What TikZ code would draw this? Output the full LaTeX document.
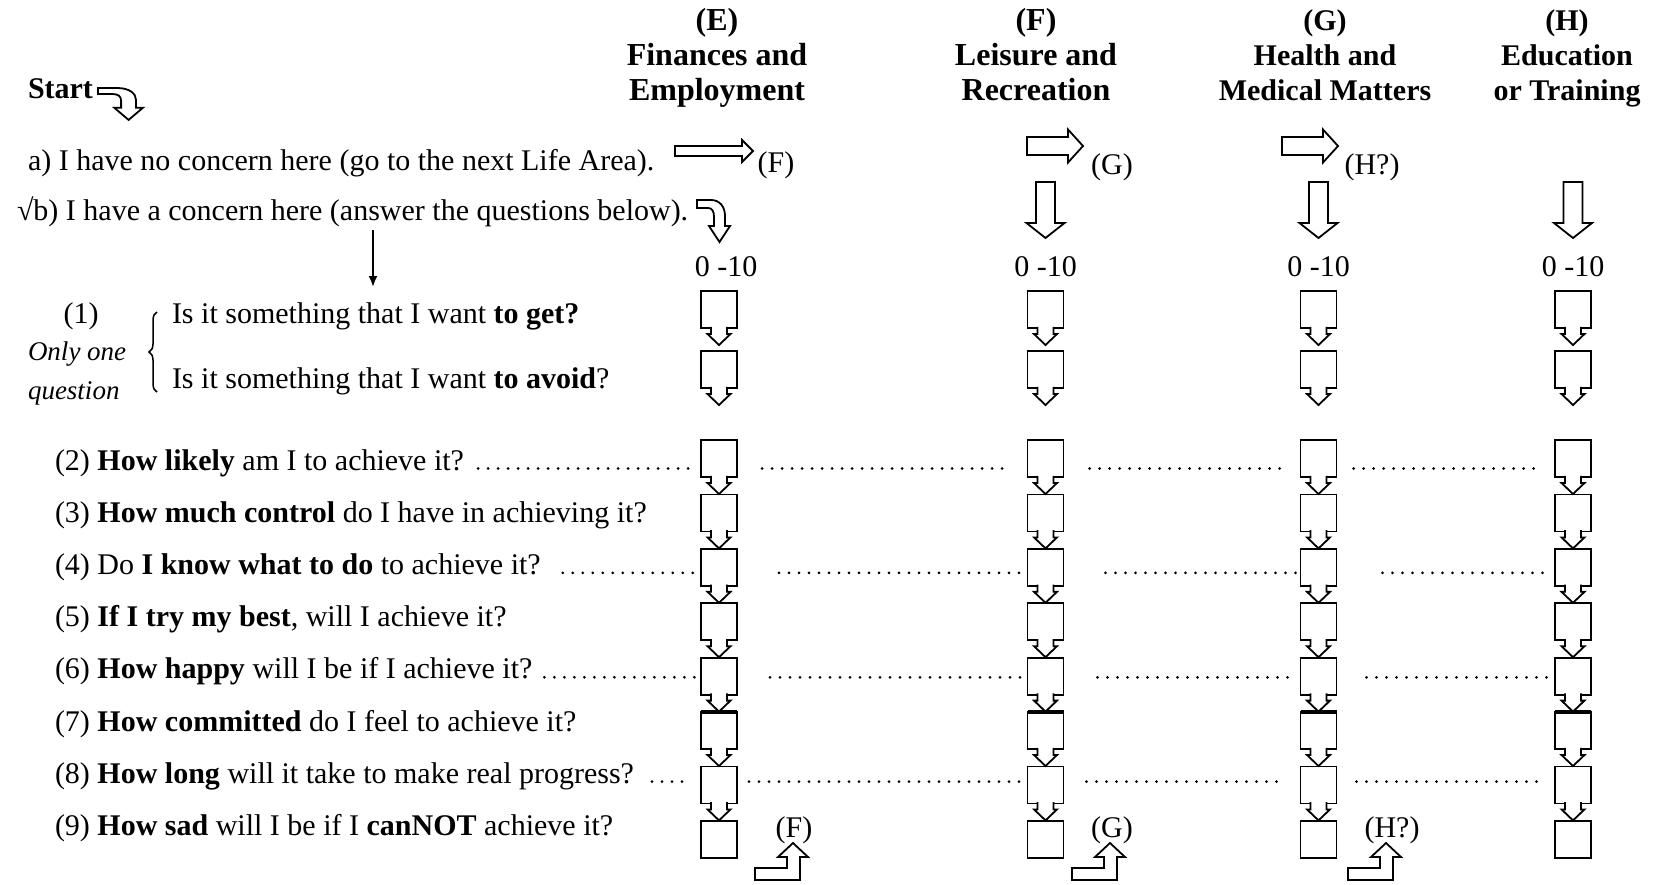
\documentclass[tikz,border=0pt]{standalone}
\usepackage{fontspec}
\setmainfont{Liberation Serif}
\usetikzlibrary{arrows.meta,calc,decorations.pathreplacing}
\newcommand{\bodyfont}{\fontsize{30}{36}\selectfont}
\newcommand{\boxarrow}[1]{\filldraw[hollow] ($(#1.south)+(-8,-1.2)$) -- ($(#1.south)+(-8,6)$) -- ($(#1.south)+(-11.5,6)$) -- ($(#1.south)+(0,17)$) -- ($(#1.south)+(11.5,6)$) -- ($(#1.south)+(8,6)$) -- ($(#1.south)+(8,-1.2)$);}
\newcommand{\rblock}[6]{\draw[hollow] (#1,#2-#4) -- (#3-#6,#2-#4) -- (#3-#6,#2-#5) -- (#3,#2) -- (#3-#6,#2+#5) -- (#3-#6,#2+#4) -- (#1,#2+#4) -- cycle;}
\newcommand{\dblock}[6]{\draw[hollow] (#1-#4,#2) -- (#1-#4,#3-#6) -- (#1-#5,#3-#6) -- (#1,#3) -- (#1+#5,#3-#6) -- (#1+#4,#3-#6) -- (#1+#4,#2) -- cycle;}
\newcommand{\curvedarrow}[4]{\begin{scope}[shift={(#1,#2)},xscale=#3,yscale=#4]
\draw[hollow] (0,0) -- (14,0) .. controls (23,0) and (28,7) .. (28,16) -- (28,26) -- (33,26) -- (22.5,42) -- (12,26) -- (17,26) -- (17,17) .. controls (17,11) and (15,8) .. (11,8) -- (0,8) -- cycle;
\end{scope}}
\newcommand{\larrow}[1]{\draw[hollow] (#1,880) -- (#1,868) -- (#1+32,868) -- (#1+32,857) -- (#1+23,857) -- (#1+38,843) -- (#1+53,857) -- (#1+45,857) -- (#1+45,880) -- cycle;}
\newcommand{\leaderline}[5]{\draw[leader] ($(#1 |- #3)+(#4,-1.5)$) -- ($(#2 |- #3)+(#5,-1.5)$);}
\begin{document}
\begin{tikzpicture}[x=1pt,y=-1pt,
  body/.style={font=\bodyfont, inner sep=0pt, outer sep=0pt},
  hdE/.style={font=\fontsize{32}{36}\selectfont\bfseries, inner sep=0pt, anchor=base},
  hdG/.style={font=\fontsize{30}{36}\selectfont\bfseries, inner sep=0pt, anchor=base},
  qbox/.style={draw, line width=1.8pt, minimum width=36pt, minimum height=37pt, inner sep=0pt, outer sep=0pt},
  hollow/.style={draw, line width=1.8pt, fill=white, line join=miter},
  leader/.style={line width=3pt, line cap=round, dash pattern=on 0pt off 10pt}]
\useasboundingbox (0,0) rectangle (1655,884);

% headers
\node[hdE] (hE1) at (717,30) {(E)};
\node[hdE] (hE2) at (717,65) {Finances and};
\node[hdE] (hE3) at (717,100) {Employment};
\node[hdE] (hF1) at (1036,30) {(F)};
\node[hdE] (hF2) at (1036,65) {Leisure and};
\node[hdE] (hF3) at (1036,100) {Recreation};
\node[hdG] (hG1) at (1325,30) {(G)};
\node[hdG] (hG2) at (1325,65) {Health and};
\node[hdG] (hG3) at (1325,100) {Medical Matters};
\node[hdG] (hH1) at (1567,30) {(H)};
\node[hdG] (hH2) at (1567,65) {Education};
\node[hdG] (hH3) at (1567,100) {or Training};

% start and a)/b) lines
\node[body, font=\bodyfont\bfseries, anchor=base west] (start) at (28,98) {Start};
\curvedarrow{98}{88}{1.36}{0.76}
\node[body, anchor=base west] (ta) at (28,170) {a) I have no concern here (go to the next Life Area).};
\node[body, anchor=base west] (tb) at (17,220) {√b) I have a concern here (answer the questions below).};
\curvedarrow{697}{200}{1}{1}

\rblock{675}{151}{753}{5}{11}{11}
\node[body] (lF) at (776,165) {(F)};
\rblock{1027}{146}{1083}{9}{16.5}{15}
\node[body] (lG) at (1112,167) {(G)};
\rblock{1282}{146}{1338}{9}{16.5}{15}
\node[body] (lH) at (1372,167) {(H?)};

\dblock{1045.5}{182}{238}{9.5}{19}{15}
\dblock{1318.5}{182}{238}{9.5}{19}{15}
\dblock{1573}{182}{238}{9.5}{19}{15}

% scale labels
\node[body] (zE) at (726,267) {0 -10};
\node[body] (zF) at (1045.5,267) {0 -10};
\node[body] (zG) at (1318.5,267) {0 -10};
\node[body] (zH) at (1573,267) {0 -10};

% thin down arrow
\coordinate (dtip) at (373,287);
\draw[line width=2pt, -{Latex[length=11pt,width=9pt]}] ($(tb.south -| dtip)+(0,4)$) -- (dtip);

% (1) group
\node[body, anchor=base] (one) at (81,323) {(1)};
\node[body, font=\fontsize{27}{30}\selectfont\itshape, anchor=base west] (onlyone) at (28,360) {Only one};
\node[body, font=\fontsize{27}{30}\selectfont\itshape, anchor=base west] (question) at (28,399) {question};
\draw[line width=1.5pt, decorate, decoration={brace, amplitude=8pt}] (157,392) -- (157,312);
\node[body, anchor=base west] (qa) at (172,323) {Is it something that I want \textbf{to get?}};
\node[body, anchor=base west] (qb) at (172,388) {Is it something that I want \textbf{to avoid}?};

% question rows
\node[body, anchor=base west] (r2) at (55,470) {(2) \textbf{How likely} am I to achieve it?};
\node[body, anchor=base west] (r3) at (55,522.2) {(3) \textbf{How much control} do I have in achieving it?};
\node[body, anchor=base west] (r4) at (55,574.4) {(4) Do \textbf{I know what to do} to achieve it?};
\node[body, anchor=base west] (r5) at (55,626.6) {(5) \textbf{If I try my best}, will I achieve it?};
\node[body, anchor=base west] (r6) at (55,678.8) {(6) \textbf{How happy} will I be if I achieve it?};
\node[body, anchor=base west] (r7) at (55,731) {(7) \textbf{How committed} do I feel to achieve it?};
\node[body, anchor=base west] (r8) at (55,783.2) {(8) \textbf{How long} will it take to make real progress?};
\node[body, anchor=base west] (r9) at (55,835.4) {(9) \textbf{How sad} will I be if I \textbf{canNOT} achieve it?};

% boxes
\foreach \col/\xx in {E/719,F/1045.5,G/1318.5,H/1573} {
  \foreach \rw/\yy in {a/309.5,b/369.5,2/458.5,3/512.9,4/567.3,5/621.7,6/676.1,7/730.5,8/784.9,9/839.3} {
    \node[qbox] (\col\rw) at (\xx,\yy) {};
  }
}
\foreach \col in {E,F,G,H} {
  \foreach \rw in {a,b,2,3,4,5,6,7,8} { \boxarrow{\col\rw} }
  \draw[line width=4pt] (\col7.north west) -- (\col7.north east);
}

% leaders
\leaderline{r2.base east}{E2.west}{r2.base}{14}{-7}
\leaderline{E2.east}{F2.west}{r2.base}{25}{-19}
\leaderline{F2.east}{G2.west}{r2.base}{26}{-18}
\leaderline{G2.east}{H2.west}{r2.base}{17}{-14}
\leaderline{r4.base east}{E4.west}{r4.base}{22}{-3}
\leaderline{E4.east}{F4.west}{r4.base}{42}{-3}
\leaderline{F4.east}{G4.west}{r4.base}{42}{-3}
\leaderline{G4.east}{H4.west}{r4.base}{46}{-10}
\leaderline{r6.base east}{E6.west}{r6.base}{12}{-3}
\leaderline{E6.east}{F6.west}{r6.base}{33}{-4}
\leaderline{F6.east}{G6.west}{r6.base}{34}{-4}
\leaderline{G6.east}{H6.west}{r6.base}{30}{-3}
\leaderline{r8.base east}{E8.west}{r8.base}{18}{-12}
\leaderline{E8.east}{F8.west}{r8.base}{12}{-8}
\leaderline{F8.east}{G8.west}{r8.base}{23}{-14}
\leaderline{G8.east}{H8.west}{r8.base}{20}{-14}

% bottom L arrows
\larrow{755}
\node[body] (bF) at (794,830) {(F)};
\larrow{1072}
\node[body] (bG) at (1112,830) {(G)};
\larrow{1348}
\node[body] (bH) at (1392,830) {(H?)};
\end{tikzpicture}
\end{document}
